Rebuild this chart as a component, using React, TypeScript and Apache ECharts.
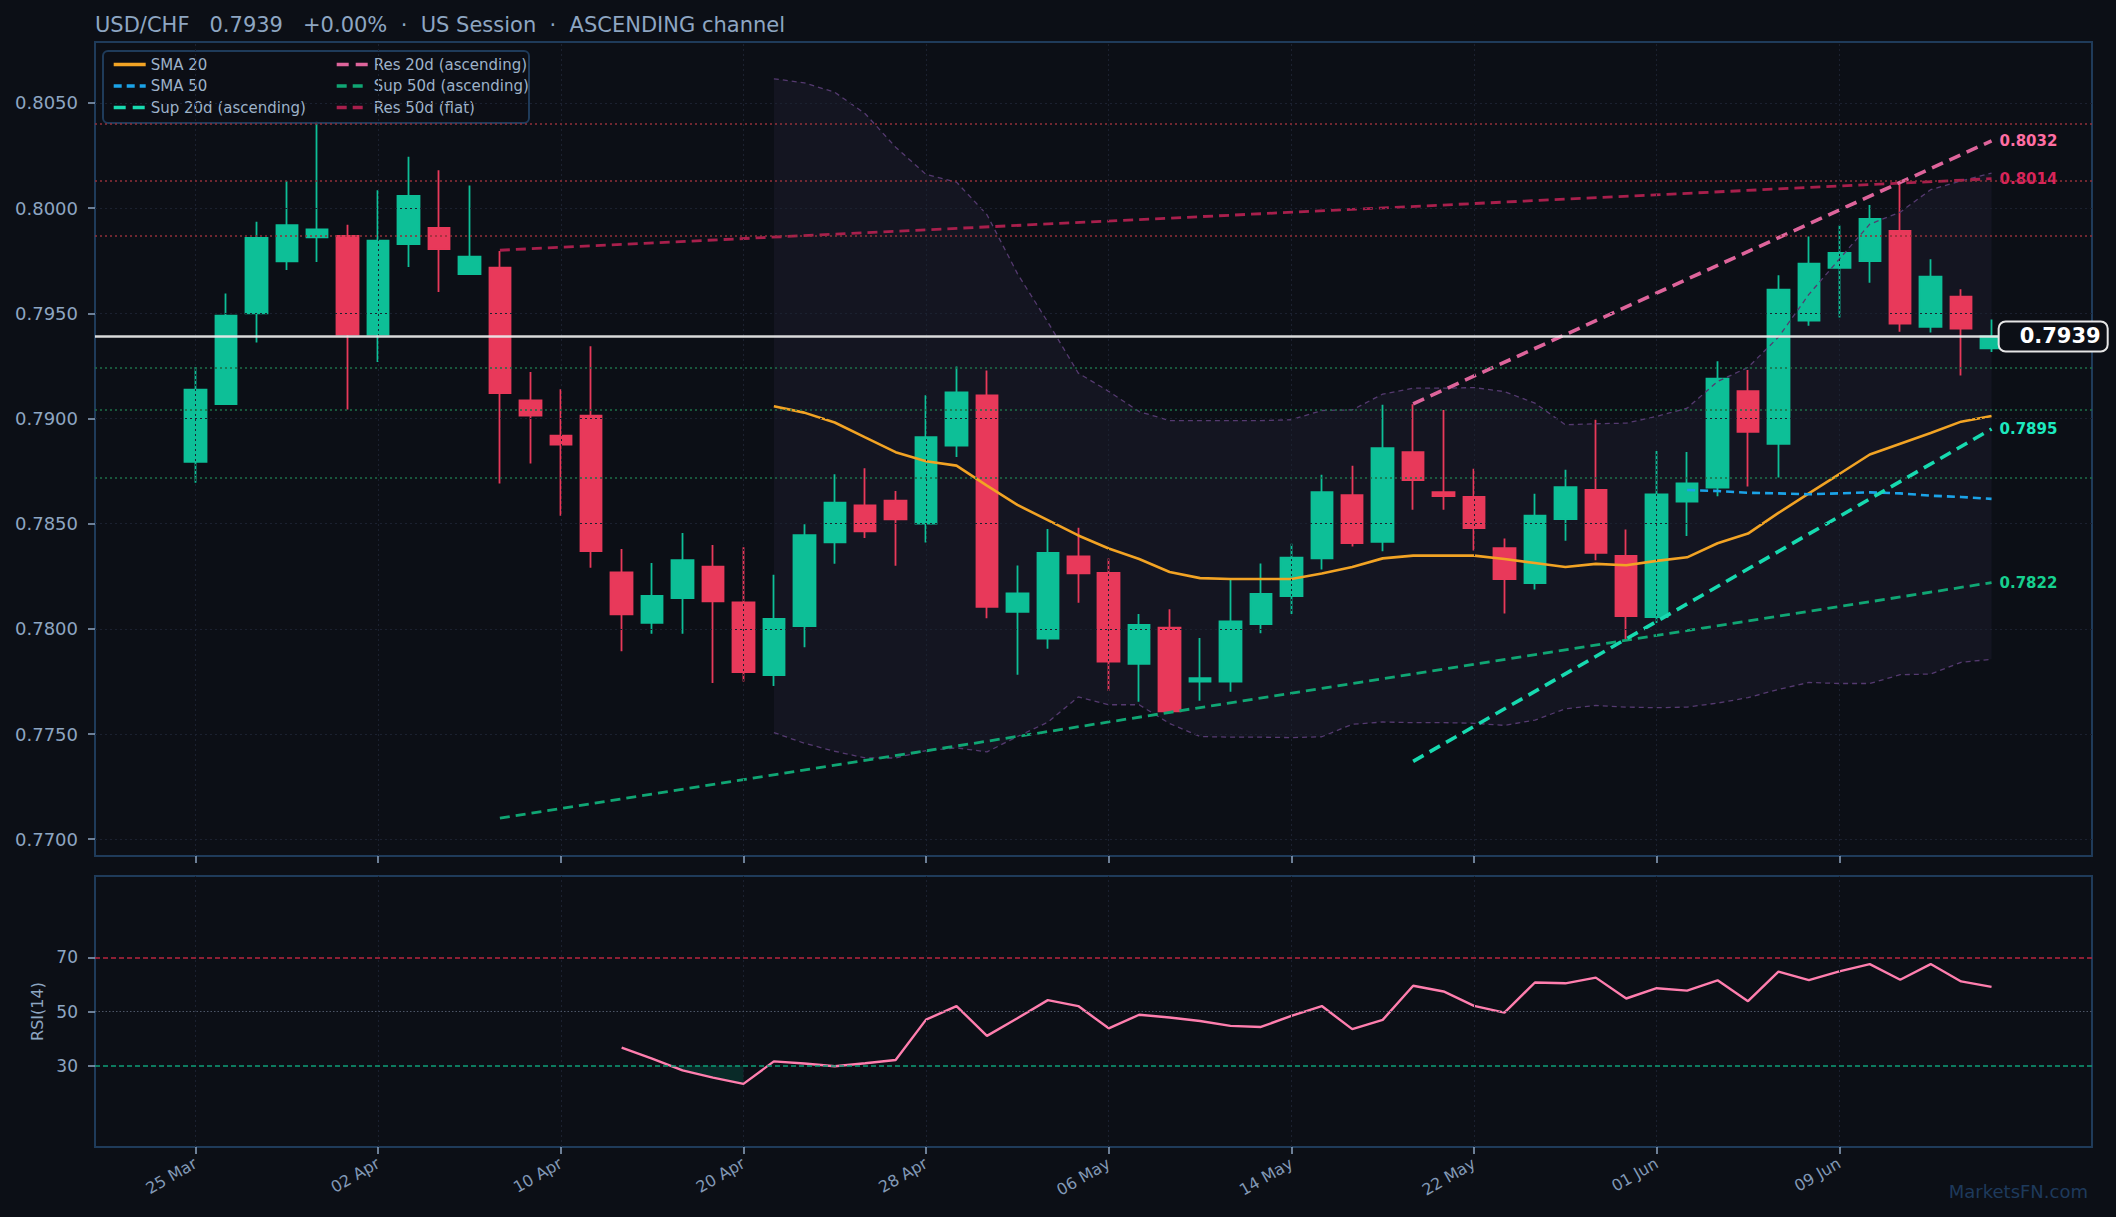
import React, { useEffect, useRef } from 'react';
import * as echarts from 'echarts';

// x positions are trading-day indexes (0 = 25 Mar)
const tickIdx = [0, 6, 12, 18, 24, 30, 36, 42, 48, 54];
const tickLabels = ['25 Mar', '02 Apr', '10 Apr', '20 Apr', '28 Apr', '06 May', '14 May', '22 May', '01 Jun', '09 Jun'];
const priceTicks = [0.77, 0.775, 0.78, 0.785, 0.79, 0.795, 0.8, 0.805];
const rsiTicks = [30, 50, 70];

const opens = [
  0.78794, 0.79069, 0.795, 0.79747, 0.79861, 0.79868, 0.79399, 0.79829, 0.79906, 0.79686,
  0.79717, 0.79086, 0.78918, 0.79013, 0.78268, 0.78028, 0.78146, 0.78296, 0.78126, 0.7778,
  0.78013, 0.78411, 0.78587, 0.7861, 0.785, 0.78871, 0.7911, 0.78081, 0.77954, 0.78344,
  0.78266, 0.77834, 0.78006, 0.77749, 0.77749, 0.78023, 0.78156, 0.78335, 0.78636, 0.78413,
  0.7884, 0.7865, 0.78627, 0.78384, 0.78218, 0.78522, 0.7866, 0.78347, 0.78056, 0.78605,
  0.78672, 0.7913, 0.7888, 0.79465, 0.79716, 0.79748, 0.79892, 0.79436, 0.79579, 0.79334,
];
const closes = [
  0.79137, 0.79489, 0.79859, 0.79919, 0.79899, 0.79399, 0.79845, 0.80058, 0.79805, 0.79769,
  0.79121, 0.79014, 0.78876, 0.7837, 0.78069, 0.78156, 0.78326, 0.78131, 0.77794, 0.78047,
  0.78445, 0.786, 0.78463, 0.7852, 0.78911, 0.79124, 0.78104, 0.78168, 0.78361, 0.78264,
  0.77844, 0.78019, 0.77608, 0.77765, 0.78035, 0.78166, 0.78338, 0.7865, 0.78408, 0.78859,
  0.78707, 0.78631, 0.78479, 0.78237, 0.78538, 0.78674, 0.78361, 0.7806, 0.78639, 0.78691,
  0.79189, 0.78936, 0.79613, 0.79736, 0.79787, 0.79949, 0.79451, 0.79674, 0.79427, 0.7939,
];
const lows = [
  0.78695, 0.79069, 0.79361, 0.79706, 0.79744, 0.79043, 0.79269, 0.7972, 0.79601, 0.79686,
  0.78691, 0.78786, 0.78538, 0.78291, 0.77893, 0.77977, 0.77977, 0.77743, 0.7775, 0.77728,
  0.77912, 0.7831, 0.78432, 0.783, 0.78411, 0.78817, 0.7805, 0.77782, 0.77905, 0.78124,
  0.77705, 0.77653, 0.77608, 0.77658, 0.77701, 0.77979, 0.78071, 0.78282, 0.78392, 0.78369,
  0.78566, 0.78566, 0.78373, 0.78073, 0.78187, 0.78419, 0.78326, 0.77949, 0.78028, 0.78441,
  0.7863, 0.78677, 0.7872, 0.79441, 0.7948, 0.79645, 0.79412, 0.79409, 0.79204, 0.79316,
];
const highs = [
  0.79245, 0.79594, 0.79935, 0.80128, 0.80415, 0.79921, 0.80085, 0.80245, 0.8018, 0.80108,
  0.79796, 0.79221, 0.79139, 0.79343, 0.78379, 0.78313, 0.78456, 0.78398, 0.78388, 0.78257,
  0.78497, 0.78735, 0.78764, 0.78655, 0.79111, 0.79247, 0.79228, 0.78301, 0.78475, 0.78481,
  0.78334, 0.7807, 0.78093, 0.77956, 0.78236, 0.78311, 0.78405, 0.78733, 0.78775, 0.79065,
  0.79068, 0.79041, 0.78761, 0.78429, 0.78642, 0.78756, 0.78994, 0.78472, 0.78846, 0.78841,
  0.79272, 0.7923, 0.79681, 0.79865, 0.79917, 0.80015, 0.80125, 0.79757, 0.79615, 0.79471,
];

const sma20Start = 19;
const sma20 = [
  0.79058, 0.79028, 0.78981, 0.7891, 0.7884, 0.78797, 0.78776, 0.78681, 0.78589, 0.78517,
  0.78444, 0.78382, 0.78332, 0.7827, 0.78241, 0.78237, 0.78237, 0.78237, 0.78263, 0.78294,
  0.78335, 0.78348, 0.78348, 0.78348, 0.78332, 0.78313, 0.78294, 0.78309, 0.78302, 0.78323,
  0.7834, 0.78407, 0.78453, 0.78551, 0.78644, 0.78736, 0.78829, 0.7888, 0.78931, 0.78985,
  0.79012,
];
const sma50Start = 49;
const sma50 = [0.7866, 0.78655, 0.78647, 0.78644, 0.7864, 0.78644, 0.78649, 0.78644, 0.78633, 0.78627, 0.78618];

const bandStart = 19;
const bandUpper = [
  0.80615, 0.80596, 0.80551, 0.80449, 0.8029, 0.8016, 0.80124, 0.79969, 0.79689, 0.79458,
  0.79216, 0.79129, 0.79033, 0.7899, 0.7899, 0.7899, 0.7899, 0.78994, 0.79038, 0.79041,
  0.79116, 0.79144, 0.79144, 0.79147, 0.79128, 0.79073, 0.7897, 0.78975, 0.78978, 0.7901,
  0.79049, 0.79176, 0.79243, 0.79387, 0.7959, 0.79758, 0.79924, 0.79981, 0.80088, 0.8013,
  0.80167,
];
const bandLower = [
  0.77507, 0.77456, 0.77418, 0.77386, 0.77386, 0.77421, 0.77434, 0.77415, 0.77488, 0.77556,
  0.77676, 0.77639, 0.77639, 0.7755, 0.77488, 0.77485, 0.77485, 0.77483, 0.77487, 0.77546,
  0.77557, 0.77554, 0.77554, 0.77551, 0.77541, 0.77566, 0.7762, 0.77636, 0.77628, 0.77625,
  0.77628, 0.77647, 0.77673, 0.77712, 0.77745, 0.7774, 0.7774, 0.77782, 0.77785, 0.77841,
  0.77855,
];

const rsiStart = 14;
const rsi = [
  36.7, 32.6, 28.3, 25.6, 23.3, 31.6, 30.8, 29.8, 30.9, 32.1,
  47.0, 52.0, 41.0, 47.5, 54.2, 52.0, 43.8, 48.8, 47.8, 46.5,
  44.7, 44.3, 48.4, 52.0, 43.5, 46.9, 59.5, 57.4, 52.1, 49.6,
  60.7, 60.4, 62.5, 54.8, 58.6, 57.7, 61.5, 53.8, 64.7, 61.6,
  64.8, 67.5, 61.7, 67.5, 61.1, 59.1,
];

// trend lines: [index, price] at start and end
const res50 = [[10, 0.798], [59, 0.8014]];
const sup50 = [[10, 0.771], [59, 0.7822]];
const res20 = [[40, 0.7907], [59, 0.8032]];
const sup20 = [[40, 0.7737], [59, 0.7895]];

const resLevels = [0.804, 0.8013, 0.7987];
const supLevels = [0.7924, 0.7904, 0.7872];
const lastPrice = 0.7939;

const BG = '#0c0f16';
const FONT = 'DejaVu Sans';
const TXT = '#8ea6c2';
const SPINE = '#1f3b5a';
const GRID = '#1b2130';
const UP = '#0dbf97';
const DOWN = '#e8395a';

const withIdx = (arr: number[], start: number) => arr.map((v, k) => [start + k, v]);

const App: React.FC = () => {
  const chartRef = useRef<HTMLDivElement>(null);

  useEffect(() => {
    if (!chartRef.current) return;
    const chart = echarts.init(chartRef.current, undefined, { renderer: 'svg' });

    // oversold fill runs (rsi < 30, at least two points)
    const fillData: any[] = [];
    let run: number[][] = [];
    const flush = () => {
      if (run.length >= 3) {
        if (fillData.length) fillData.push('-');
        fillData.push(...run);
      }
      run = [];
    };
    rsi.forEach((v, k) => {
      const x = rsiStart + k;
      if (v < 30) {
        if (run.length === 0 && k > 0) {
          const p = rsi[k - 1];
          run.push([x - 1 + (p - 30) / (p - v), 30]);
        }
        run.push([x, v]);
      } else {
        flush();
      }
    });
    flush();

    const lineBase = {
      type: 'line',
      xAxisIndex: 0,
      yAxisIndex: 0,
      symbol: 'none',
      showSymbol: false,
      silent: true,
    };

    const vGrid = {
      silent: true,
      symbol: 'none',
      precision: 6,
      label: { show: false },
      lineStyle: { color: GRID, type: [2, 3], width: 1 },
      data: tickIdx.map((x) => ({ xAxis: x })),
    };

    const trend = (name: string, pts: number[][], color: string, width: number, dash: number[], labelColor: string) => ({
      ...lineBase,
      name,
      data: pts,
      lineStyle: { color, width, type: dash },
      itemStyle: { color },
      endLabel: {
        show: true,
        formatter: () => pts[pts.length - 1][1].toFixed(4),
        color: labelColor,
        fontWeight: 'bold',
        fontSize: 15,
        fontFamily: FONT,
        distance: 8,
      },
    });

    const axisTickStyle = (vals: number[]) => ({
      show: true,
      customValues: vals,
      length: 7,
      lineStyle: { color: TXT, width: 1.5 },
    });

    const legendBase = {
      orient: 'vertical',
      top: 52,
      itemWidth: 32,
      itemHeight: 14,
      itemGap: 6.5,
      selectedMode: false,
      itemStyle: { color: 'transparent', borderWidth: 0, opacity: 0 },
      lineStyle: { width: 3.4 },
      textStyle: { color: '#9db2c9', fontSize: 15, fontFamily: FONT },
    };

    const option: any = {
      animation: false,
      backgroundColor: BG,
      textStyle: { fontFamily: FONT },
      title: {
        text: 'USD/CHF   0.7939   +0.00%  ·  US Session  ·  ASCENDING channel',
        left: 95,
        top: 14,
        padding: 0,
        textStyle: { color: TXT, fontSize: 21, fontWeight: 'normal', fontFamily: FONT },
      },
      legend: [
        { ...legendBase, data: ['SMA 20', 'SMA 50', 'Sup 20d (ascending)'], left: 107 },
        { ...legendBase, data: ['Res 20d (ascending)', 'Sup 50d (ascending)', 'Res 50d (flat)'], left: 330 },
      ],
      graphic: [
        {
          type: 'rect',
          left: 102,
          top: 50,
          z: 3,
          shape: { width: 426, height: 72, r: 5 },
          style: { fill: 'rgba(12,15,22,0.88)', stroke: SPINE, lineWidth: 2 },
        },
        {
          type: 'text',
          right: 28,
          bottom: 17,
          style: { text: 'MarketsFN.com', fill: '#1e3a5c', font: `18px ${FONT}` },
        },
      ],
      grid: [
        { left: 95, right: 24, top: 42, height: 814, show: true, borderColor: SPINE, borderWidth: 2, backgroundColor: 'transparent' },
        { left: 95, right: 24, top: 876, height: 271, show: true, borderColor: SPINE, borderWidth: 2, backgroundColor: 'transparent' },
      ],
      xAxis: [
        {
          type: 'value',
          gridIndex: 0,
          min: -3.3,
          max: 62.3,
          axisLine: { show: false, onZero: false },
          axisTick: axisTickStyle(tickIdx),
          axisLabel: { show: false },
          splitLine: { show: false },
        },
        {
          type: 'value',
          gridIndex: 1,
          min: -3.3,
          max: 62.3,
          axisLine: { show: false, onZero: false },
          axisTick: axisTickStyle(tickIdx),
          axisLabel: {
            customValues: tickIdx,
            formatter: (v: number) => tickLabels[tickIdx.indexOf(Math.round(v))] ?? '',
            rotate: 30,
            fontSize: 16,
            color: '#8299b6',
            margin: 15,
            fontFamily: FONT,
          },
          splitLine: { show: false },
        },
      ],
      yAxis: [
        {
          type: 'value',
          gridIndex: 0,
          min: 0.7692,
          max: 0.8079,
          axisLine: { show: false, onZero: false },
          axisTick: axisTickStyle(priceTicks),
          axisLabel: {
            customValues: priceTicks,
            formatter: (v: number) => v.toFixed(4),
            fontSize: 18,
            color: TXT,
            margin: 17,
            fontFamily: FONT,
          },
          splitLine: { show: false },
        },
        {
          type: 'value',
          gridIndex: 1,
          min: 0,
          max: 100,
          name: 'RSI(14)',
          nameLocation: 'middle',
          nameGap: 41,
          nameRotate: 90,
          nameTextStyle: { color: TXT, fontSize: 16, fontFamily: FONT },
          axisLine: { show: false, onZero: false },
          axisTick: axisTickStyle(rsiTicks),
          axisLabel: { customValues: rsiTicks, fontSize: 17, color: TXT, margin: 17, fontFamily: FONT },
          splitLine: { show: false },
        },
      ],
      series: [
        // vertical grid (main)
        { ...lineBase, name: '_vgrid', data: [], markLine: vGrid },
        // bollinger envelope fill
        {
          type: 'custom',
          name: '_bandFill',
          xAxisIndex: 0,
          yAxisIndex: 0,
          silent: true,
          clip: true,
          data: [[bandStart, bandLower[0]]],
          renderItem: (_params: any, api: any) => {
            const pts = [
              ...bandUpper.map((u, k) => api.coord([bandStart + k, u])),
              ...bandLower.map((l, k) => api.coord([bandStart + k, l])).reverse(),
            ];
            return {
              type: 'polygon',
              shape: { points: pts },
              style: { fill: 'rgba(125,105,175,0.075)', stroke: 'none' },
            };
          },
        },
        {
          ...lineBase,
          name: '_bandUpper',
          data: withIdx(bandUpper, bandStart),
          lineStyle: { color: '#553a70', width: 1.3, type: [5, 4] },
        },
        {
          ...lineBase,
          name: '_bandLower',
          data: withIdx(bandLower, bandStart),
          lineStyle: { color: '#553a70', width: 1.3, type: [5, 4] },
        },
        {
          type: 'candlestick',
          name: 'USD/CHF',
          xAxisIndex: 0,
          yAxisIndex: 0,
          silent: true,
          encode: { x: 0, y: [1, 2, 3, 4] },
          data: opens.map((o, i) => [i, o, closes[i], lows[i], highs[i]]),
          barWidth: '66%',
          itemStyle: { color: UP, color0: DOWN, borderColor: UP, borderColor0: DOWN, borderWidth: 1.8 },
        },
        // horizontal grid, levels, last price
        {
          ...lineBase,
          name: '_levels',
          data: [],
          markLine: {
            silent: true,
            symbol: 'none',
            precision: 6,
            label: { show: false },
            data: [
              ...priceTicks.map((v) => ({ yAxis: v, lineStyle: { color: GRID, type: [2, 3], width: 1 } })),
              ...resLevels.map((v) => ({ yAxis: v, lineStyle: { color: '#93303a', type: [2, 3], width: 1.6 } })),
              ...supLevels.map((v) => ({ yAxis: v, lineStyle: { color: '#1c7048', type: [2, 3], width: 1.6 } })),
              { yAxis: lastPrice, lineStyle: { color: 'rgba(236,236,236,0.92)', type: 'solid', width: 2.6 } },
            ],
          },
        },
        {
          ...lineBase,
          name: 'SMA 20',
          data: withIdx(sma20, sma20Start),
          lineStyle: { color: '#f2a324', width: 2.6 },
          itemStyle: { color: '#f2a324' },
        },
        {
          ...lineBase,
          name: 'SMA 50',
          data: withIdx(sma50, sma50Start),
          lineStyle: { color: '#1ba3e8', width: 2.6, type: [8, 5] },
          itemStyle: { color: '#1ba3e8' },
        },
        trend('Res 50d (flat)', res50, '#a81f4c', 2.8, [10, 6], '#d8245a'),
        trend('Sup 50d (ascending)', sup50, '#10a674', 2.8, [10, 6], '#17d08f'),
        trend('Res 20d (ascending)', res20, '#de649b', 3.6, [12, 7], '#ff6ea3'),
        trend('Sup 20d (ascending)', sup20, '#17dab0', 3.6, [12, 7], '#1de9bf'),
        {
          ...lineBase,
          name: '_last',
          data: [],
          markPoint: {
            silent: true,
            symbol: 'rect',
            symbolSize: 1,
            precision: 6,
            itemStyle: { color: 'transparent' },
            data: [{ coord: [59.25, lastPrice], value: lastPrice }],
            label: {
              show: true,
              position: 'right',
              distance: 0,
              formatter: lastPrice.toFixed(4),
              color: '#ffffff',
              fontWeight: 'bold',
              fontSize: 21,
              fontFamily: FONT,
              backgroundColor: BG,
              borderColor: '#e6e6e6',
              borderWidth: 2,
              borderRadius: 6,
              padding: [4, 6, 3, 20],
            },
          },
        },
        // RSI panel
        { ...lineBase, name: '_vgridRsi', xAxisIndex: 1, yAxisIndex: 1, data: [], markLine: vGrid },
        {
          ...lineBase,
          name: '_rsiLevels',
          xAxisIndex: 1,
          yAxisIndex: 1,
          data: [],
          markLine: {
            silent: true,
            symbol: 'none',
            label: { show: false },
            data: [
              { yAxis: 70, lineStyle: { color: '#b8263f', type: [5, 3], width: 1.6 } },
              { yAxis: 50, lineStyle: { color: '#4d5667', type: [1.5, 2], width: 1.2 } },
              { yAxis: 30, lineStyle: { color: '#0e9e78', type: [5, 3], width: 1.6 } },
            ],
          },
        },
        {
          ...lineBase,
          name: '_oversold',
          xAxisIndex: 1,
          yAxisIndex: 1,
          data: fillData,
          lineStyle: { opacity: 0 },
          areaStyle: { color: 'rgba(0,180,130,0.24)', origin: 30 },
        },
        {
          ...lineBase,
          name: 'RSI',
          xAxisIndex: 1,
          yAxisIndex: 1,
          data: withIdx(rsi, rsiStart),
          lineStyle: { color: '#ff7eae', width: 2.4 },
        },
      ],
    };

    chart.setOption(option);

    return () => {
      chart.dispose();
    };
  }, []);

  return (
    <div
      ref={chartRef}
      style={{ position: 'fixed', left: 0, top: 0, width: 2116, height: 1217, backgroundColor: BG }}
    />
  );
};

export default App;
